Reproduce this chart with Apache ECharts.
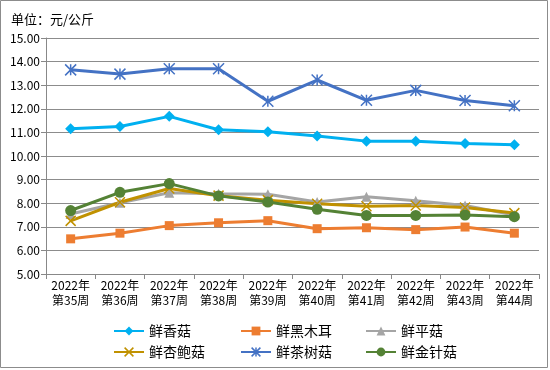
<!DOCTYPE html>
<html><head><meta charset="utf-8">
<script src="https://cdn.jsdelivr.net/npm/echarts@6/dist/echarts.min.js"></script>
<style>html,body{margin:0;padding:0;background:#fff}#c{width:550px;height:370px}</style>
</head><body><div id="c"></div>
<script>
const categories = ['2022年\n第35周','2022年\n第36周','2022年\n第37周','2022年\n第38周','2022年\n第39周','2022年\n第40周','2022年\n第41周','2022年\n第42周','2022年\n第43周','2022年\n第44周'];
const seriesNames = ['鲜香菇','鲜黑木耳','鲜平菇','鲜杏鲍菇','鲜茶树菇','鲜金针菇'];
const xiangGu   = [11.15, 11.25, 11.68, 11.11, 11.03, 10.85, 10.63, 10.63, 10.53, 10.48];
const heiMuEr   = [6.49, 6.73, 7.05, 7.17, 7.26, 6.92, 6.96, 6.88, 6.99, 6.73];
const pingGu    = [7.54, 8.02, 8.44, 8.40, 8.38, 8.05, 8.27, 8.10, 7.90, 7.50];
const xingBaoGu = [7.25, 8.04, 8.62, 8.32, 8.13, 7.98, 7.87, 7.90, 7.82, 7.58];
const chaShuGu  = [13.65, 13.47, 13.70, 13.70, 12.32, 13.22, 12.36, 12.78, 12.35, 12.13];
const jinZhenGu = [7.69, 8.46, 8.83, 8.31, 8.05, 7.74, 7.48, 7.48, 7.50, 7.43];
const yMin = 5, yMax = 15, yStep = 1;

const values = [xiangGu, heiMuEr, pingGu, xingBaoGu, chaShuGu, jinZhenGu];
const colors = ['#00B0F0','#ED7D31','#A5A5A5','#C09100','#4472C4','#548235'];
const symbols = ['diamond','rect','triangle','path://M0,0L10,10M10,0L0,10','path://M5,0L5,10M0,0L10,10M10,0L0,10','circle'];
const sizes = [11, 9, 10, 10, 11, 11];
const stroked = [false,false,false,true,true,false];
const font = '"Noto Sans CJK SC", "DejaVu Sans", sans-serif';

const chart = echarts.init(document.getElementById('c'));
const series = seriesNames.map((n,i)=>({
  name:n, type:'line', data:values[i], symbol:symbols[i], symbolSize:sizes[i],
  lineStyle:{color:colors[i], width:3},
  itemStyle: stroked[i] ? {color:'rgba(0,0,0,0)', borderColor:colors[i], borderWidth:1.5} : {color:colors[i]},
  emphasis:{disabled:true}, animation:false
}));
const legendPos = [[113,324],[240,324],[365,324],[113,345],[240,345],[365,345]];
const legends = seriesNames.map((n,i)=>({
  data:[{name:n, itemStyle: stroked[i] ? {color:colors[i], borderColor:colors[i], borderWidth:1.5} : {color:colors[i]}}],
  left:legendPos[i][0], top:legendPos[i][1], itemWidth:30, itemHeight:11, itemGap:0,
  selectedMode:false, textStyle:{fontSize:14, color:'#000', fontFamily:font, padding:[0,0,0,0]}, padding:0
}));
chart.setOption({
  animation:false,
  title:{text:'单位：元/公斤', left:6, top:8, textStyle:{fontSize:13, fontWeight:'normal', color:'#000', fontFamily:font}},
  grid:{left:46, right:11, top:38, bottom:96},
  legend:legends,
  xAxis:{type:'category', data:categories, boundaryGap:true,
    axisLine:{lineStyle:{color:'#888', width:1}},
    axisTick:{show:true, length:5, lineStyle:{color:'#888'}},
    axisLabel:{fontSize:12, color:'#000', fontFamily:font, lineHeight:15, margin:4, interval:0}},
  yAxis:{type:'value', min:yMin, max:yMax, interval:yStep,
    axisLine:{show:true, lineStyle:{color:'#888'}},
    axisTick:{show:true, length:5, lineStyle:{color:'#888'}},
    splitLine:{lineStyle:{color:'#8c8c8c', width:1}},
    axisLabel:{fontSize:12, color:'#000', fontFamily:font, margin:6, formatter:v=>v.toFixed(2)}},
  graphic:[{type:'rect', shape:{x:0.5,y:0.5,width:547,height:367}, style:{fill:'none', stroke:'#8c8c8c', lineWidth:1}, silent:true}],
  series:series
});
</script></body></html>
